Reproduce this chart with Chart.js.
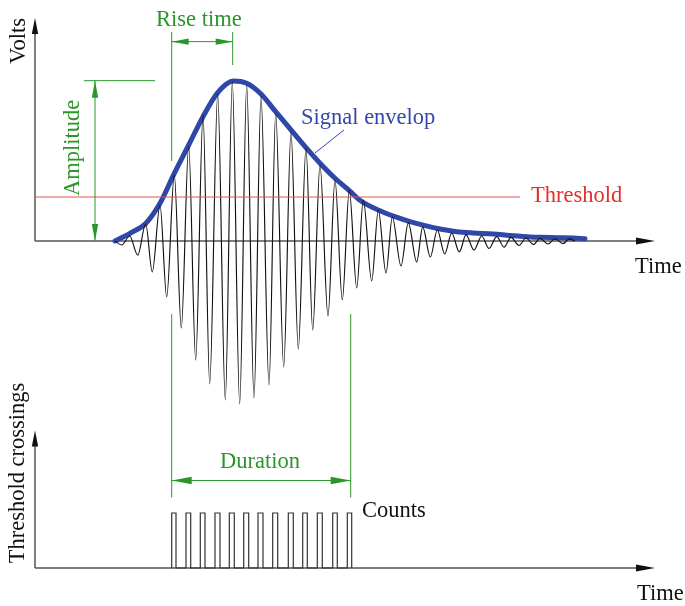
<!DOCTYPE html>
<html>
<head>
<meta charset="utf-8">
<script src="https://cdn.jsdelivr.net/npm/chart.js@4"></script>
<style>
  html, body { margin: 0; background: #fff; }
  canvas { display: block; }
</style>
</head>
<body>
<canvas id="chart" width="685" height="606"></canvas>
<script>
// signal samples (time in arbitrary units, volts) - peaks and troughs
const waveTime = [8.0, 8.67, 9.47, 10.27, 11.07, 11.73, 12.5, 13.17, 13.93, 14.63, 15.37, 16.07, 16.8, 17.47,
  18.27, 19.03, 19.73, 20.47, 21.17, 21.9, 22.6, 23.4, 24.07, 24.87, 25.6, 26.33, 27.1, 27.77, 28.5, 29.3,
  30.0, 30.73, 31.43, 32.17, 32.83, 33.67, 34.33, 35.1, 35.73, 36.6, 37.33, 38.17, 38.77, 39.53, 40.23,
  40.97, 41.67, 42.43, 43.1, 43.9, 44.67, 45.4, 46.17, 46.9, 47.6, 48.4, 49.1, 49.85, 50.5, 51.3, 52.0,
  52.8, 53.43, 54.0];
const waveVolts = [0, -0.25, 0.31, -0.88, 1.06, -1.94, 2.25, -3.5, 4.13, -5.44, 5.94, -7.44, 7.88, -8.94,
  9.19, -9.94, 9.94, -10.19, 9.75, -9.81, 9.06, -9.0, 8.0, -7.88, 6.81, -6.75, 5.81, -5.56, 4.75, -4.69,
  3.81, -3.69, 3.19, -2.94, 2.56, -2.5, 1.94, -2.0, 1.5, -1.56, 1.13, -1.31, 0.88, -1.0, 0.69,
  -0.81, 0.5, -0.69, 0.38, -0.56, 0.31, -0.47, 0.27, -0.38, 0.23, -0.28, 0.19, -0.22, 0.17, -0.19, 0.14,
  -0.16, 0.13, 0];

// envelope
const envTime = [8.0, 9.5, 11.07, 12.5, 13.93, 15.37, 16.8, 18.27, 19.83, 21.17, 22.6, 24.07, 25.6, 27.1,
  28.5, 30.0, 31.43, 32.6, 34.5, 36.0, 37.5, 39.17, 40.5, 42.17, 43.83, 45.83, 47.5, 49.17, 50.5, 52.17,
  53.83, 55.0];
const envVolts = [0, 0.48, 1.1, 2.36, 4.23, 6.0, 7.77, 9.27, 10.0, 9.86, 9.19, 8.08, 6.94, 5.83,
  4.86, 3.92, 3.15, 2.5, 1.89, 1.52, 1.21, 0.94, 0.75, 0.58, 0.5, 0.44, 0.34, 0.27, 0.23, 0.21,
  0.19, 0.14];

const threshold = 2.75;
const thresholdEnd = 48.5;

// threshold crossing pulses (counts)
const pulseStart = [13.67, 15.1, 16.53, 18.0, 19.43, 20.87, 22.3, 23.77, 25.33, 26.77, 28.23, 29.77, 31.23];
const pulseEnd = [14.1, 15.57, 17.0, 18.5, 19.93, 21.37, 22.8, 24.27, 25.83, 27.23, 28.73, 30.23, 31.67];

// annotation values
const riseStart = 13.67, riseEnd = 19.77;
const peakVolts = 10.02;
const durStart = 13.67, durEnd = 31.57;
const axisEnd = 62;

const W = 685, H = 606;
const green = "#2a962a";

// value range of a scale so that v1 lands on pixel p1 and v2 on p2
function fit(v1, p1, v2, p2, size, vertical) {
  const k = (v2 - v1) / (p2 - p1);
  const a = v1 + (0 - p1) * k, b = v1 + (size - p1) * k;
  return vertical ? { min: b, max: a } : { min: a, max: b };
}
const xr = fit(0, 35, axisEnd, 655, W, false);
const vr = fit(0, 241, 10, 81, H, true);
const cr = fit(0, 568, 1, 513, H, true);

const pulsePts = [];
pulseStart.forEach((s, i) => {
  pulsePts.push({ x: s, y: 0 }, { x: s, y: 1 }, { x: pulseEnd[i], y: 1 }, { x: pulseEnd[i], y: 0 });
});

function arrow(ctx, x1, y1, x2, y2, color, len, half) {
  const a = Math.atan2(y2 - y1, x2 - x1);
  ctx.save();
  ctx.fillStyle = color;
  ctx.translate(x2, y2);
  ctx.rotate(a);
  ctx.beginPath();
  ctx.moveTo(0, 0);
  ctx.lineTo(-len, -half);
  ctx.lineTo(-len, half);
  ctx.closePath();
  ctx.fill();
  ctx.restore();
}
function line(ctx, x1, y1, x2, y2, color, w) {
  ctx.save();
  ctx.strokeStyle = color;
  ctx.lineWidth = w;
  ctx.beginPath();
  ctx.moveTo(x1, y1);
  ctx.lineTo(x2, y2);
  ctx.stroke();
  ctx.restore();
}
function text(ctx, s, x, y, color, rot) {
  ctx.save();
  ctx.font = "22.5px 'Liberation Serif'";
  ctx.fillStyle = color;
  ctx.textBaseline = "alphabetic";
  ctx.translate(x, y);
  if (rot) {
    ctx.rotate(-Math.PI / 2);
    ctx.textAlign = "center";
  }
  ctx.fillText(s, 0, 0);
  ctx.restore();
}

const decor = {
  id: "decor",
  beforeDatasetsDraw(chart) {
    const ctx = chart.ctx;
    const X = (v) => chart.scales.x.getPixelForValue(v);
    const V = (v) => chart.scales.yV.getPixelForValue(v);
    const C = (v) => chart.scales.yC.getPixelForValue(v);
    // axes
    const ax = "#555";
    line(ctx, X(0), V(0), X(axisEnd) - 10, V(0), ax, 1.5);
    line(ctx, X(0), V(0), X(0), V(13.94) + 10, ax, 1.5);
    arrow(ctx, X(0), V(0), X(axisEnd), V(0), "#111", 19, 3.5);
    arrow(ctx, X(0), V(0), X(0), V(13.94), "#111", 16, 3.2);
    line(ctx, X(0), C(0), X(axisEnd) - 10, C(0), ax, 1.5);
    line(ctx, X(0), C(0), X(0), C(2.5) + 10, ax, 1.5);
    arrow(ctx, X(0), C(0), X(axisEnd), C(0), "#111", 19, 3.5);
    arrow(ctx, X(0), C(0), X(0), C(2.5), "#111", 16, 3.2);
  },
  afterDatasetsDraw(chart) {
    const ctx = chart.ctx;
    const X = (v) => chart.scales.x.getPixelForValue(v);
    const V = (v) => chart.scales.yV.getPixelForValue(v);
    const C = (v) => chart.scales.yC.getPixelForValue(v);

    // rise time
    line(ctx, X(riseStart), V(13.06), X(riseStart), V(5.0), green, 1);
    line(ctx, X(riseEnd), V(13.06), X(riseEnd), V(11.0), green, 1);
    line(ctx, X(riseStart), V(12.46), X(riseEnd), V(12.46), green, 1);
    arrow(ctx, X(riseEnd), V(12.46), X(riseStart), V(12.46), green, 17, 3.2);
    arrow(ctx, X(riseStart), V(12.46), X(riseEnd), V(12.46), green, 17, 3.2);
    text(ctx, "Rise time", 156, 26, green, false);

    // amplitude
    line(ctx, X(4.9), V(peakVolts), X(12.0), V(peakVolts), green, 1);
    line(ctx, X(6.0), V(0), X(6.0), V(peakVolts), green, 1);
    arrow(ctx, X(6.0), V(0), X(6.0), V(peakVolts), green, 17, 3.2);
    arrow(ctx, X(6.0), V(peakVolts), X(6.0), V(0), green, 17, 3.2);
    text(ctx, "Amplitude", 79, 148, green, true);

    // duration
    line(ctx, X(durStart), V(-4.56), X(durStart), C(1.28), green, 1);
    line(ctx, X(durEnd), V(-4.56), X(durEnd), C(1.28), green, 1);
    line(ctx, X(durStart), C(1.59), X(durEnd), C(1.59), green, 1);
    arrow(ctx, X(durEnd), C(1.59), X(durStart), C(1.59), green, 20, 3.8);
    arrow(ctx, X(durStart), C(1.59), X(durEnd), C(1.59), green, 20, 3.8);
    text(ctx, "Duration", 220, 468, green, false);

    // envelope leader
    line(ctx, X(30.9), V(6.94), X(28.0), V(5.5), "#2f48a8", 1);
    text(ctx, "Signal envelop", 301, 124, "#3447a8", false);
    text(ctx, "Threshold", 531, 201.5, "#e0302c", false);
    text(ctx, "Counts", 362, 517, "#111", false);
    text(ctx, "Time", 635, 273, "#111", false);
    text(ctx, "Time", 637, 600, "#111", false);
    text(ctx, "Volts", 25, 41, "#111", true);
    text(ctx, "Threshold crossings", 24, 473, "#111", true);
  }
};

new Chart(document.getElementById("chart"), {
  type: "line",
  data: {
    datasets: [
      {
        label: "threshold",
        data: [{ x: 0, y: threshold }, { x: thresholdEnd, y: threshold }],
        yAxisID: "yV",
        borderColor: "#e25555",
        borderWidth: 1,
      },
      {
        label: "signal",
        data: waveTime.map((t, i) => ({ x: t, y: waveVolts[i] })),
        yAxisID: "yV",
        borderColor: "#111",
        borderWidth: 1.15,
        cubicInterpolationMode: "monotone",
      },
      {
        label: "envelope",
        data: envTime.map((t, i) => ({ x: t, y: envVolts[i] })),
        yAxisID: "yV",
        borderColor: "#2f48a8",
        borderWidth: 5,
        borderCapStyle: "round",
        cubicInterpolationMode: "monotone",
      },
      {
        label: "counts",
        data: pulsePts,
        yAxisID: "yC",
        borderColor: "#333",
        borderWidth: 1.2,
        tension: 0,
      },
    ],
  },
  options: {
    responsive: false,
    animation: false,
    layout: { padding: 0 },
    elements: { point: { radius: 0 } },
    plugins: { legend: { display: false }, tooltip: { enabled: false } },
    scales: {
      x: { type: "linear", display: false, min: xr.min, max: xr.max },
      yV: { type: "linear", display: false, min: vr.min, max: vr.max },
      yC: { type: "linear", display: false, min: cr.min, max: cr.max },
    },
  },
  plugins: [decor],
});
</script>
</body>
</html>
